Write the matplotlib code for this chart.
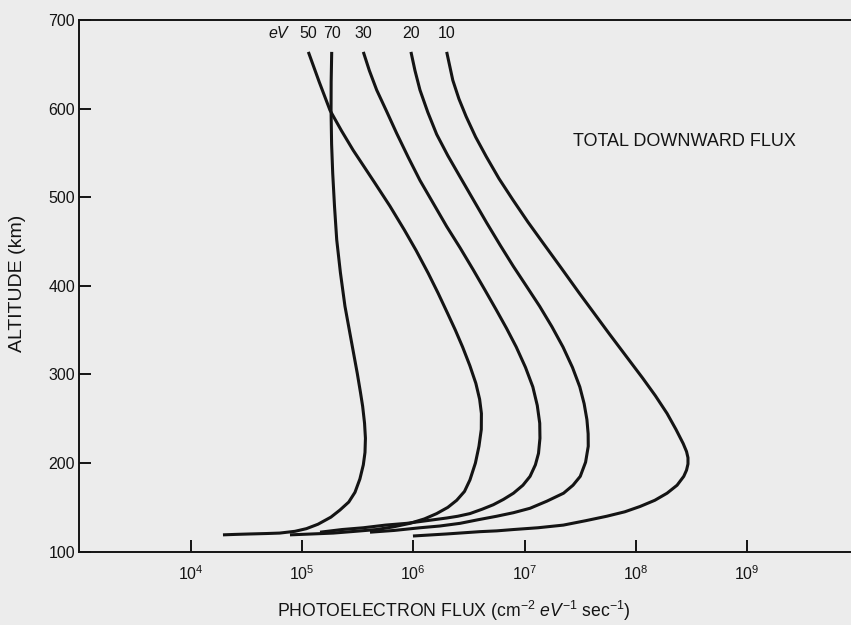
# Total downward photoelectron flux vs altitude for several photoelectron energies

import numpy as np
import matplotlib
matplotlib.use('Agg')
import matplotlib.pyplot as plt
from matplotlib.ticker import NullLocator

plt.rcParams['font.family'] = ['Liberation Sans', 'DejaVu Sans']
plt.rcParams['mathtext.fontset'] = 'custom'
plt.rcParams['mathtext.rm'] = 'Liberation Sans'
plt.rcParams['mathtext.it'] = 'Liberation Sans:italic'

ink = '#141414'
paper = '#ececec'

# altitude (km) and log10 of flux (cm-2 eV-1 sec-1), top of the profile first
alt_70 = [664, 630, 598, 560, 527, 490, 452, 415, 377, 340, 301, 280, 264, 245, 228, 212,
          198, 182, 167, 156, 147, 139, 131, 126, 123, 121, 120.5, 120, 119.5, 119]
lf_70 = [5.267, 5.262, 5.261, 5.266, 5.276, 5.292, 5.312, 5.345, 5.386, 5.440, 5.497, 5.525,
         5.545, 5.562, 5.570, 5.566, 5.551, 5.520, 5.476, 5.420, 5.341, 5.260, 5.144, 5.040,
         4.937, 4.800, 4.683, 4.533, 4.400, 4.290]

alt_50 = [664, 630, 598, 575, 553, 535, 516, 490, 463, 440, 414, 392, 369, 350, 331, 310, 290,
          272, 256, 238, 219, 200, 181, 168, 158, 150, 143, 137, 132, 128, 125, 123, 121, 120, 119]
lf_50 = [5.057, 5.155, 5.252, 5.355, 5.460, 5.555, 5.655, 5.790, 5.920, 6.025, 6.135, 6.222,
         6.308, 6.378, 6.443, 6.508, 6.562, 6.596, 6.612, 6.611, 6.590, 6.558, 6.509, 6.460,
         6.390, 6.310, 6.210, 6.100, 5.970, 5.820, 5.671, 5.480, 5.281, 5.090, 4.892]

alt_30 = [664, 643, 621, 597, 572, 545, 519, 493, 467, 443, 418, 395, 373, 352, 331, 308, 286,
          265, 245, 228, 211, 198, 185, 175, 166, 159, 153, 148, 143, 140, 138, 135, 132, 130,
          127, 125, 122]
lf_30 = [5.551, 5.605, 5.671, 5.760, 5.851, 5.955, 6.060, 6.180, 6.300, 6.420, 6.539, 6.645,
         6.745, 6.838, 6.925, 7.008, 7.074, 7.114, 7.136, 7.138, 7.125, 7.097, 7.049, 6.985,
         6.900, 6.810, 6.719, 6.620, 6.509, 6.400, 6.300, 6.120, 5.941, 5.750, 5.551, 5.360,
         5.162]

alt_20 = [664, 643, 621, 596, 571, 547, 523, 497, 471, 446, 422, 399, 377, 354, 331, 308, 286,
          267, 249, 233, 219, 201, 185, 175, 166, 157, 149, 144, 140, 136, 132, 129, 127, 124, 122]
lf_20 = [5.979, 6.015, 6.060, 6.130, 6.210, 6.310, 6.420, 6.540, 6.660, 6.780, 6.899, 7.020,
         7.135, 7.245, 7.345, 7.430, 7.496, 7.535, 7.560, 7.571, 7.572, 7.548, 7.500, 7.435,
         7.350, 7.200, 7.049, 6.900, 6.749, 6.580, 6.420, 6.240, 6.060, 5.830, 5.611]

alt_10 = [664, 632, 611, 591, 568, 546, 521, 497, 472, 448, 420, 392, 369, 346, 321, 296, 276,
          256, 238, 222, 213, 206, 199, 192, 185, 175, 166, 158, 151, 145, 140, 135, 130, 127,
          125, 123.5, 122.6, 120, 117.7]
lf_10 = [6.300, 6.355, 6.410, 6.475, 6.560, 6.655, 6.770, 6.895, 7.030, 7.168, 7.330, 7.490,
         7.625, 7.760, 7.910, 8.060, 8.175, 8.280, 8.360, 8.425, 8.455, 8.468, 8.468, 8.455,
         8.430, 8.370, 8.280, 8.170, 8.037, 7.900, 7.738, 7.550, 7.348, 7.120, 6.899, 6.750,
         6.599, 6.300, 5.997]

energies = ['50', '70', '30', '20', '10']
profiles = {'50': (lf_50, alt_50), '70': (lf_70, alt_70), '30': (lf_30, alt_30),
            '20': (lf_20, alt_20), '10': (lf_10, alt_10)}

x_ticks = [4, 5, 6, 7, 8, 9]
y_ticks = [100, 200, 300, 400, 500, 600, 700]

fig = plt.figure(figsize=(8.51, 6.25), dpi=100, facecolor=paper)
ax = fig.add_axes([0.0933, 0.1173, 0.9155, 0.8507])
ax.set_facecolor(paper)

for e in energies:
    lf, alt = profiles[e]
    ax.plot(10.0 ** np.array(lf), alt, color=ink, lw=2.2, solid_capstyle='butt',
            solid_joinstyle='round')
    ax.text(10.0 ** lf[0], 685, e, ha='center', va='center', fontsize=11.5, color=ink)

ax.annotate('eV', xy=(10.0 ** lf_50[0], 685), xytext=(-15, 0), textcoords='offset points',
            ha='right', va='center', fontsize=11.5, style='italic', color=ink)

ax.text(0.634, 0.771, 'TOTAL DOWNWARD FLUX', transform=ax.transAxes,
        ha='left', va='center', fontsize=13, color=ink)

ax.set_xscale('log')
ax.set_xlim(1e3, 1e10)
ax.set_ylim(100, 700)
ax.set_xticks([10.0 ** n for n in x_ticks])
ax.set_xticklabels(['$10^{%d}$' % n for n in x_ticks])
ax.xaxis.set_minor_locator(NullLocator())
ax.set_yticks(y_ticks)
ax.tick_params(direction='in', length=8.5, width=1.4, labelsize=11.5, colors=ink)
ax.tick_params(axis='y', pad=3)
ax.tick_params(axis='x', pad=9)

ax.spines['right'].set_visible(False)
for s in ['left', 'bottom', 'top']:
    ax.spines[s].set_linewidth(1.4)
    ax.spines[s].set_color(ink)

fig.text(0.02, 0.546, 'ALTITUDE (km)', rotation=90, ha='center', va='center',
         fontsize=14, color=ink)
fig.text(0.5335, 0.0224, 'PHOTOELECTRON FLUX (cm$^{-2}$ $eV^{-1}$ sec$^{-1}$)',
         ha='center', va='center', fontsize=12.7, color=ink)

fig.savefig('out.png', dpi=100, facecolor=paper)
